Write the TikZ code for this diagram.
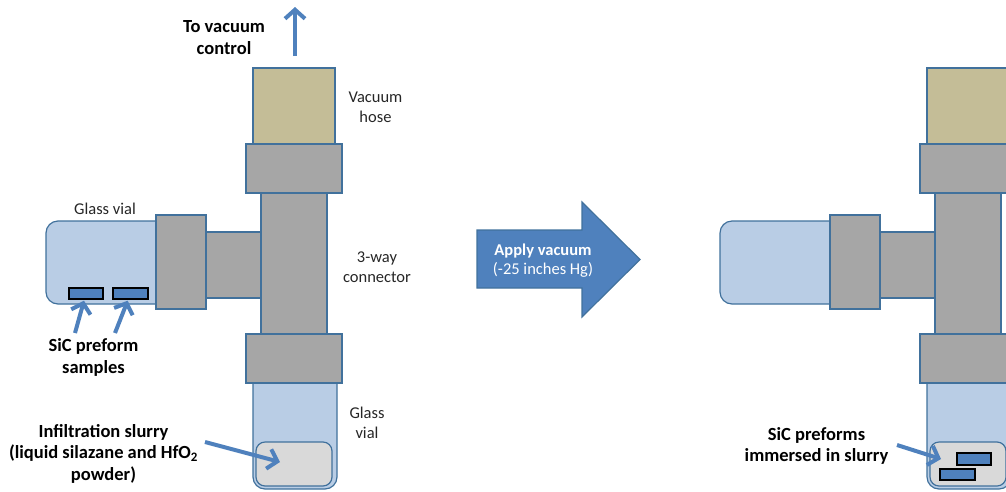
\documentclass[tikz,border=0pt]{standalone}
\usepackage{fontspec}
\setmainfont{Carlito}
\usetikzlibrary{arrows.meta}

\definecolor{vialblue}{HTML}{B9CDE5}
\definecolor{edgeblue}{HTML}{41719C}
\definecolor{partgray}{HTML}{A6A6A6}
\definecolor{hosetan}{HTML}{C4BD97}
\definecolor{slurrygray}{HTML}{D9D9D9}
\definecolor{arrowblue}{HTML}{4F81BD}
\definecolor{textgray}{HTML}{262626}

\tikzset{
        part/.style={draw=edgeblue, line width=1.2pt, fill=partgray},
        hose/.style={draw=edgeblue, line width=1.2pt, fill=hosetan},
        vial/.style={draw=edgeblue, line width=1.2pt, fill=vialblue, rounded corners=12pt},
        slurry/.style={draw=edgeblue, line width=1.2pt, fill=slurrygray, rounded corners=9pt},
        sample/.style={draw=black, line width=1.5pt, fill=arrowblue, inner sep=0pt},
        pointer/.style={draw=arrowblue, line width=4pt, -{Straight Barb[length=9pt,width=20pt]}},
        plaintext/.style={font=\fontsize{16.5}{19.5}\selectfont, text=textgray, align=center},
        boldtext/.style={font=\fontsize{18.5}{21.5}\selectfont\bfseries, align=center}
}

\begin{document}
\begin{tikzpicture}[x=1pt,y=-1pt]
        \clip (0,0) rectangle (1006,491);

        \foreach \dx in {0,674}{
        \begin{scope}[xshift=\dx pt]
                \draw[vial] (46,221) rectangle (175,304);
                \draw[vial] (253,370) rectangle (337,489);
                \draw[slurry] (256,442) rectangle (332,486);

                \draw[part] (200,232) rectangle (262,298);
                \draw[part] (261,190) rectangle (327,337);
                \draw[hose] (253,68) rectangle (335,150);
                \draw[part] (246,144) rectangle (342,193);
                \draw[part] (246,334) rectangle (342,383);
                \draw[part] (156,215) rectangle (206,309);
        \end{scope}}

        \node[sample, minimum width=34pt, minimum height=11pt] (sampleA) at (86,293.5) {};
        \node[sample, minimum width=35pt, minimum height=11pt] (sampleB) at (130.5,293.5) {};
        \node[sample, minimum width=34pt, minimum height=12pt] (soakA) at (974,459) {};
        \node[sample, minimum width=35pt, minimum height=11pt] (soakB) at (957.5,474.5) {};

        \node[boldtext] (control) at (224,37.5) {To vacuum\\control};
        \node[plaintext] (hoselabel) at (375.5,107.5) {Vacuum\\hose};
        \node[plaintext] (vialtop) at (105,209) {Glass vial};
        \node[plaintext] (connector) at (377,267) {3-way\\connector};
        \node[plaintext] (vialbottom) at (367,423) {Glass\\vial};
        \node[boldtext] (samples) at (93.5,357.5) {SiC preform\\samples};
        \node[boldtext] (mixture) at (103.5,453.5) {Infiltration slurry\\(liquid silazane and HfO\textsubscript{2}\\powder)};
        \node[boldtext] (immersed) at (816.5,446) {SiC preforms\\immersed in slurry};

        \coordinate (pumpfrom) at (295,56);
        \coordinate (pumpto) at (295,7);
        \coordinate (mixfrom) at (205,442);
        \coordinate (mixto) at (280,462);
        \coordinate (soakfrom) at (897,445);
        \coordinate (soakto) at (941,459);

        \draw[pointer] (pumpfrom) -- (pumpto);
        \draw[pointer, shorten >=1pt] (75,333) -- (sampleA);
        \draw[pointer, shorten >=1pt] (115,333) -- (sampleB);
        \draw[pointer] (mixfrom) -- (mixto);
        \draw[pointer] (soakfrom) -- (soakto);

        \draw[draw=edgeblue, line width=1.2pt, fill=arrowblue]
                (477,230) -- (582,230) -- (582,202) -- (640,259.5)
                -- (582,317) -- (582,288) -- (477,288) -- cycle;
        \node[font=\fontsize{16.5}{19}\selectfont, text=white, align=center] (apply) at (543,260.5)
                {\textbf{Apply vacuum}\\(-25 inches Hg)};
\end{tikzpicture}
\end{document}
